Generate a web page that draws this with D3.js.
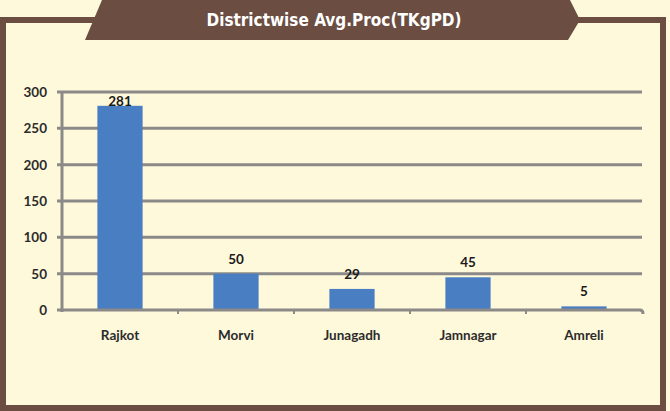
<!DOCTYPE html>
<html>
<head>
<meta charset="utf-8">
<script src="https://cdn.jsdelivr.net/npm/d3@7"></script>
<style>
  body { margin: 0; background: #fff9dc; }
  svg { display: block; }
</style>
</head>
<body>
<svg id="chart" width="670" height="411"></svg>
<script>
var districts = ["Rajkot", "Morvi", "Junagadh", "Jamnagar", "Amreli"];
var avgProc = [281, 50, 29, 45, 5];
var yTicks = [0, 50, 100, 150, 200, 250, 300];
var title = "Districtwise Avg.Proc(TKgPD)";

var svg = d3.select("#chart");
var brown = "#6b4d41";

svg.append("rect")
    .attr("width", 670).attr("height", 411)
    .attr("fill", "#fff9dc");

// outer frame
svg.append("rect")
    .attr("x", 3).attr("y", 20)
    .attr("width", 660).attr("height", 388)
    .attr("fill", "#fff9dc")
    .attr("stroke", brown)
    .attr("stroke-width", 6);

// title banner
svg.append("path")
    .attr("d", "M102,0 L570,0 L580,20 L568,40 L85,40 Z")
    .attr("fill", brown);

svg.append("text")
    .attr("x", 334).attr("y", 26)
    .attr("text-anchor", "middle")
    .attr("fill", "#fff")
    .style("font-family", "'Liberation Sans Narrow', 'DejaVu Sans Condensed', sans-serif")
    .style("font-weight", "bold")
    .style("font-size", "17px")
    .text(title);

var x = d3.scaleBand()
    .domain(districts)
    .range([62, 642])
    .paddingInner(0.61)
    .paddingOuter(0.305);

var y = d3.scaleLinear()
    .domain([0, 300])
    .range([310, 92]);

var font = "Lato, 'Open Sans', sans-serif";

// gridlines
svg.append("g")
  .selectAll("line")
  .data(yTicks.filter(function(d) { return d > 0; }))
  .enter().append("line")
    .attr("x1", 57).attr("x2", 642)
    .attr("y1", function(d) { return y(d); })
    .attr("y2", function(d) { return y(d); })
    .attr("stroke", "#8c8a88")
    .attr("stroke-width", 3);

// bars
svg.append("g")
  .selectAll("rect")
  .data(districts)
  .enter().append("rect")
    .attr("x", function(d) { return x(d); })
    .attr("width", x.bandwidth())
    .attr("y", function(d, i) { return y(avgProc[i]); })
    .attr("height", function(d, i) { return y(0) - y(avgProc[i]); })
    .attr("fill", "#4a7ec2");

// y axis line
svg.append("line")
    .attr("x1", 62).attr("x2", 62)
    .attr("y1", y(300)).attr("y2", y(0) + 2)
    .attr("stroke", "#8c8a88")
    .attr("stroke-width", 3);

// x axis line with end hook
svg.append("path")
    .attr("d", "M57," + y(0) + " L640," + y(0) + " Q643," + y(0) + " 643," + (y(0) + 4))
    .attr("fill", "none")
    .attr("stroke", "#8c8a88")
    .attr("stroke-width", 3);

// category ticks
var step = x.step();
svg.append("g")
  .selectAll("line")
  .data(districts.slice(1))
  .enter().append("line")
    .attr("x1", function(d) { return x(d) - x.paddingInner() * step / 2; })
    .attr("x2", function(d) { return x(d) - x.paddingInner() * step / 2; })
    .attr("y1", y(0)).attr("y2", y(0) + 4)
    .attr("stroke", "#8c8a88")
    .attr("stroke-width", 2);

// y tick labels
svg.append("g")
  .selectAll("text")
  .data(yTicks)
  .enter().append("text")
    .attr("x", 47)
    .attr("y", function(d) { return y(d) + 5; })
    .attr("text-anchor", "end")
    .attr("fill", "#2b2b2b")
    .style("font-family", font)
    .style("font-weight", "bold")
    .style("font-size", "13.5px")
    .text(function(d) { return d; });

// x labels
svg.append("g")
  .selectAll("text")
  .data(districts)
  .enter().append("text")
    .attr("x", function(d) { return x(d) + x.bandwidth() / 2; })
    .attr("y", 340)
    .attr("text-anchor", "middle")
    .attr("fill", "#2b2b2b")
    .style("font-family", font)
    .style("font-weight", "bold")
    .style("font-size", "13.5px")
    .text(function(d) { return d; });

// value labels
svg.append("g")
  .selectAll("text")
  .data(districts)
  .enter().append("text")
    .attr("x", function(d) { return x(d) + x.bandwidth() / 2; })
    .attr("y", function(d, i) { return y(avgProc[i]) - (i === 0 ? 0 : 10); })
    .attr("text-anchor", "middle")
    .attr("fill", "#1a1a1a")
    .style("font-family", font)
    .style("font-weight", "bold")
    .style("font-size", "13.5px")
    .text(function(d, i) { return avgProc[i]; });
</script>
</body>
</html>
